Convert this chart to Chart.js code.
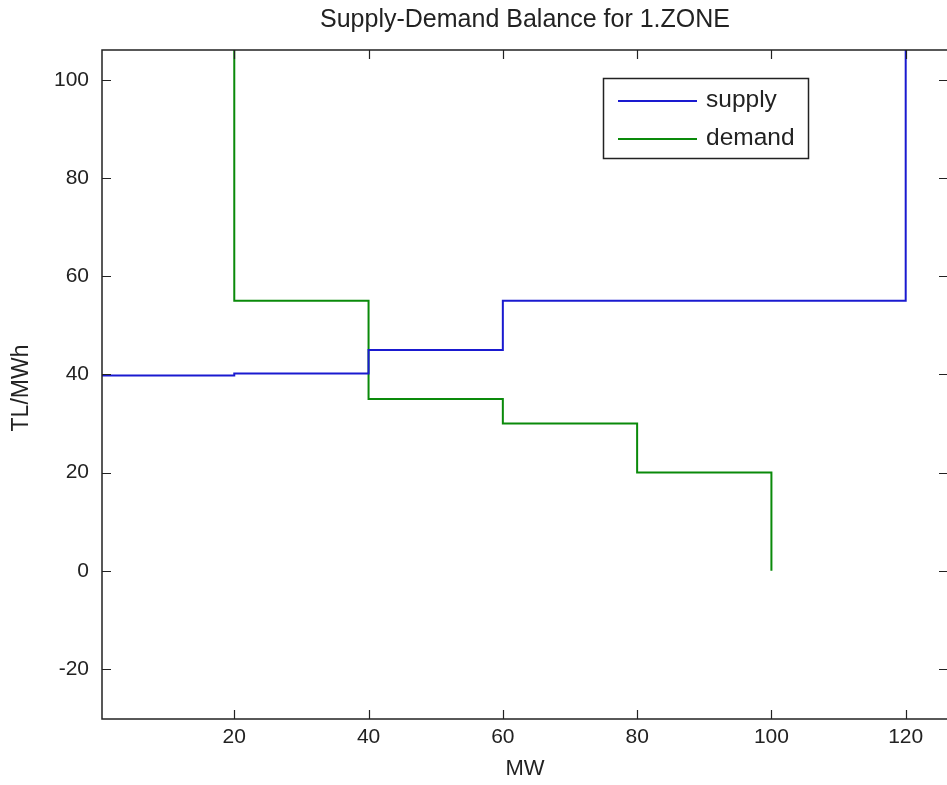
<!DOCTYPE html>
<html>
<head>
<meta charset="utf-8">
<script src="https://cdn.jsdelivr.net/npm/chart.js@4/dist/chart.umd.min.js"></script>
<style>
  html,body{margin:0;padding:0;background:#fff;overflow:hidden;}
  #wrap{width:950px;height:785px;}
</style>
</head>
<body>
<div id="wrap"><canvas id="c" width="950" height="785"></canvas></div>
<script>
// Data
const titleText='Supply-Demand Balance for 1.ZONE';
const xLabel='MW', yLabel='TL/MWh';
const seriesNames=['supply','demand'];
const supplyX=[0,20,20,40,40,60,60,120,120];
const supplyY=[39.8,39.8,40.2,40.2,45,45,55,55,130];
const demandX=[20,20,40,40,60,60,80,80,100,100];
const demandY=[130,55,55,35,35,30,30,20,20,0];
const xTicks=[20,40,60,80,100,120];
const yTicks=[-20,0,20,40,60,80,100];

const BLUE='#1a1ad0', GREEN='#0a8a0a';
const FONT='"Liberation Sans", Arial, sans-serif';
const pts=(xs,ys)=>xs.map((x,i)=>({x,y:ys[i]}));

// frame, inward ticks, title, axis labels, legend
const matlabLook={
  id:'matlabLook',
  beforeDraw(ch){
    const c=ch.ctx; c.save(); c.fillStyle='#fff'; c.fillRect(0,0,ch.width,ch.height); c.restore();
  },
  afterDatasetsDraw(ch){
    const c=ch.ctx, a=ch.chartArea, xs=ch.scales.x, ys=ch.scales.y, tl=9;
    c.save();
    c.strokeStyle='#222'; c.lineWidth=1.5;
    c.strokeRect(a.left,a.top,a.right-a.left,a.bottom-a.top);
    c.beginPath();
    xs.ticks.forEach(t=>{const px=Math.round(xs.getPixelForValue(t.value))+0.5;
      c.moveTo(px,a.bottom); c.lineTo(px,a.bottom-tl);
      c.moveTo(px,a.top); c.lineTo(px,a.top+tl);});
    ys.ticks.forEach(t=>{const py=Math.round(ys.getPixelForValue(t.value))+0.5;
      c.moveTo(a.left,py); c.lineTo(a.left+tl,py);
      c.moveTo(a.right,py); c.lineTo(a.right-tl,py);});
    c.lineWidth=1.2; c.stroke();

    c.fillStyle='#222'; c.textAlign='center'; c.textBaseline='middle';
    c.font='25px '+FONT;
    c.fillText(titleText,(a.left+a.right)/2,20);
    c.font='22px '+FONT;
    c.fillText(xLabel,(a.left+a.right)/2,769);
    c.font='23px '+FONT;
    c.save(); c.translate(22,388); c.rotate(-Math.PI/2);
    c.fillText(yLabel,0,0); c.restore();

    // legend
    const lx=603, ly=78, lw=205, lh=80;
    c.fillStyle='#fff'; c.fillRect(lx,ly,lw,lh);
    c.strokeStyle='#222'; c.lineWidth=1.5; c.strokeRect(lx+0.5,ly+0.5,lw,lh);
    const cols=[BLUE,GREEN], rows=[101,139];
    c.font='24.5px '+FONT; c.textAlign='left';
    seriesNames.forEach((n,i)=>{
      c.strokeStyle=cols[i]; c.lineWidth=2;
      c.beginPath(); c.moveTo(618,rows[i]); c.lineTo(697,rows[i]); c.stroke();
      c.fillStyle='#222'; c.fillText(n,706,rows[i]-1);
    });
    c.restore();
  }
};

new Chart(document.getElementById('c'),{
  type:'scatter',
  data:{datasets:[
    {label:seriesNames[0],data:pts(supplyX,supplyY),showLine:true,borderColor:BLUE,borderWidth:2,pointRadius:0,fill:false},
    {label:seriesNames[1],data:pts(demandX,demandY),showLine:true,borderColor:GREEN,borderWidth:2,pointRadius:0,fill:false}
  ]},
  options:{
    responsive:false,animation:false,
    layout:{padding:{top:50,right:2,left:0,bottom:0}},
    plugins:{legend:{display:false},title:{display:false},tooltip:{enabled:false}},
    scales:{
      x:{type:'linear',min:0.3,max:126.3,
        afterBuildTicks:s=>{s.ticks=xTicks.map(v=>({value:v}));},
        afterFit:s=>{s.height=66;},
        grid:{display:false,drawTicks:false},border:{display:false},
        ticks:{padding:6,color:'#222',font:{family:FONT,size:21},maxRotation:0}},
      y:{type:'linear',min:-30.2,max:106.1,
        afterBuildTicks:s=>{s.ticks=yTicks.map(v=>({value:v}));},
        afterFit:s=>{s.width=102;},
        grid:{display:false,drawTicks:false},border:{display:false},
        ticks:{padding:13,color:'#222',font:{family:FONT,size:21}}}
    }
  },
  plugins:[matlabLook]
});
</script>
</body>
</html>
